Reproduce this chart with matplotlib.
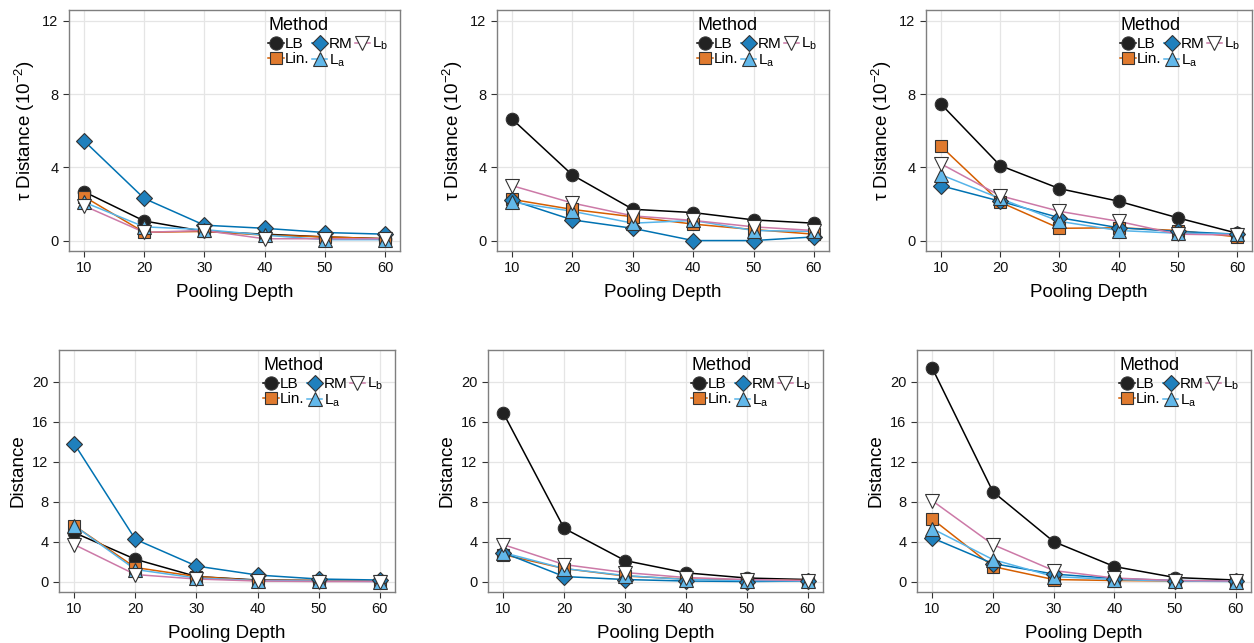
import matplotlib
matplotlib.use("Agg")
import matplotlib.pyplot as plt

plt.rcParams['font.family'] = ['Liberation Sans', 'DejaVu Sans']
plt.rcParams['mathtext.fontset'] = 'custom'
plt.rcParams['mathtext.rm'] = 'Liberation Sans'
plt.rcParams['mathtext.it'] = 'Liberation Sans:italic'

depth = [10, 20, 30, 40, 50, 60]
methods = ["LB", "Lin.", "RM", "L$_\\mathrm{a}$", "L$_\\mathrm{b}$"]

# top row: tau distance (x 10^-2)
tau_a = {
    "LB":   [2.67, 1.07, 0.5, 0.35, 0.2, 0.1],
    "Lin.": [2.4, 0.45, 0.5, 0.3, 0.2, 0.1],
    "RM":   [5.45, 2.3, 0.84, 0.67, 0.44, 0.35],
    "La":   [2.1, 0.75, 0.6, 0.3, 0.05, 0.05],
    "Lb":   [1.9, 0.45, 0.55, 0.1, 0.1, 0.1],
}
tau_b = {
    "LB":   [6.64, 3.58, 1.71, 1.53, 1.13, 0.95],
    "Lin.": [2.25, 1.7, 1.3, 0.9, 0.6, 0.35],
    "RM":   [2.2, 1.13, 0.67, 0.0, 0.0, 0.2],
    "La":   [2.1, 1.6, 0.95, 1.1, 0.55, 0.5],
    "Lb":   [3.0, 2.05, 1.35, 1.1, 0.75, 0.55],
}
tau_c = {
    "LB":   [7.47, 4.1, 2.84, 2.15, 1.24, 0.4],
    "Lin.": [5.16, 2.1, 0.67, 0.7, 0.55, 0.2],
    "RM":   [3.0, 2.15, 1.25, 0.7, 0.5, 0.35],
    "La":   [3.6, 2.3, 1.05, 0.55, 0.4, 0.35],
    "Lb":   [4.2, 2.45, 1.6, 1.05, 0.35, 0.3],
}
# bottom row: distance
dist_a = {
    "LB":   [4.9, 2.23, 0.5, 0.15, 0.1, 0.05],
    "Lin.": [5.6, 1.4, 0.5, 0.1, 0.1, 0.05],
    "RM":   [13.8, 4.23, 1.55, 0.65, 0.25, 0.15],
    "La":   [5.6, 1.2, 0.35, 0.1, 0.05, 0.0],
    "Lb":   [3.7, 0.7, 0.25, 0.05, 0.0, 0.0],
}
dist_b = {
    "LB":   [16.9, 5.33, 2.1, 0.87, 0.35, 0.2],
    "Lin.": [2.7, 1.3, 0.55, 0.25, 0.15, 0.1],
    "RM":   [2.9, 0.5, 0.2, 0.05, 0.0, 0.05],
    "La":   [2.9, 1.3, 0.6, 0.2, 0.1, 0.05],
    "Lb":   [3.7, 1.7, 0.9, 0.4, 0.2, 0.1],
}
dist_c = {
    "LB":   [21.4, 9.0, 4.0, 1.5, 0.4, 0.15],
    "Lin.": [6.27, 1.5, 0.2, 0.1, 0.05, 0.05],
    "RM":   [4.37, 1.8, 0.75, 0.3, 0.1, 0.05],
    "La":   [5.3, 2.2, 0.5, 0.2, 0.05, 0.0],
    "Lb":   [8.1, 3.7, 1.1, 0.35, 0.1, 0.05],
}

keys = ["LB", "Lin.", "RM", "La", "Lb"]
line_col = ["#000000", "#D55E00", "#0072B2", "#56B4E9", "#CC79A7"]
face_col = ["#222222", "#E07A2E", "#1F80BD", "#62B8EA", "#FFFFFF"]
mk = ["o", "s", "D", "^", "v"]
ms = [9, 8, 8, 10, 10]

W, H = 1254, 643
fig = plt.figure(figsize=(W / 100, H / 100), dpi=100)


def rect(l, r, t, b):
    return [l / W, 1 - b / H, (r - l) / W, (b - t) / H]


panels = [
    (tau_a, rect(69, 400, 10, 251), "tau"),
    (tau_b, rect(497, 829, 10, 251), "tau"),
    (tau_c, rect(926, 1252, 10, 251), "tau"),
    (dist_a, rect(59, 395, 350, 592), "dist"),
    (dist_b, rect(488, 823, 350, 592), "dist"),
    (dist_c, rect(917, 1251, 350, 592), "dist"),
]

for data, r, kind in panels:
    ax = fig.add_axes(r)
    # lines first, then the markers on top
    for i, k in enumerate(keys):
        ax.plot(depth, data[k], color=line_col[i], lw=1.1, zorder=2)
    handles = []
    for i, k in enumerate(keys):
        ax.plot(depth, data[k], marker=mk[i], ms=ms[i], mfc=face_col[i],
                mec="#333333", mew=0.8, linestyle="none", zorder=3)
        lh, = ax.plot([], [], color=line_col[i], lw=1.1, marker=mk[i],
                      ms=ms[i] + 0.5, mfc=face_col[i], mec="#333333", mew=0.8)
        handles.append(lh)
    ax.set_xlim(7.5, 62.5)
    ax.set_xticks(depth)
    if kind == "tau":
        ax.set_ylim(-0.57, 12.6)
        ax.set_yticks([0, 4, 8, 12])
        ax.set_ylabel("\u03c4 Distance (10$^{-2}$)", fontsize=13.5)
    else:
        ax.set_ylim(-1.05, 23.2)
        ax.set_yticks([0, 4, 8, 12, 16, 20])
        ax.set_ylabel("Distance", fontsize=13.5)
    ax.set_xlabel("Pooling Depth", fontsize=13.5, labelpad=6)
    ax.grid(True, color="#E5E5E5", lw=0.9)
    ax.set_axisbelow(True)
    for s in ax.spines.values():
        s.set_color("#7F7F7F")
        s.set_linewidth(1.0)
    ax.tick_params(labelsize=10.5, colors="#333333", length=4, width=0.8)
    ax.tick_params(labelcolor="#111111")
    ax.legend(handles, methods, ncol=3, loc="upper right",
              bbox_to_anchor=(1.0, 1.02), frameon=False,
              title="Method", title_fontsize=13, fontsize=11,
              alignment="left", handlelength=1.0, handletextpad=0.1,
              columnspacing=0.15, labelspacing=0.1, borderpad=0.3)

fig.savefig("out.png", dpi=100)
